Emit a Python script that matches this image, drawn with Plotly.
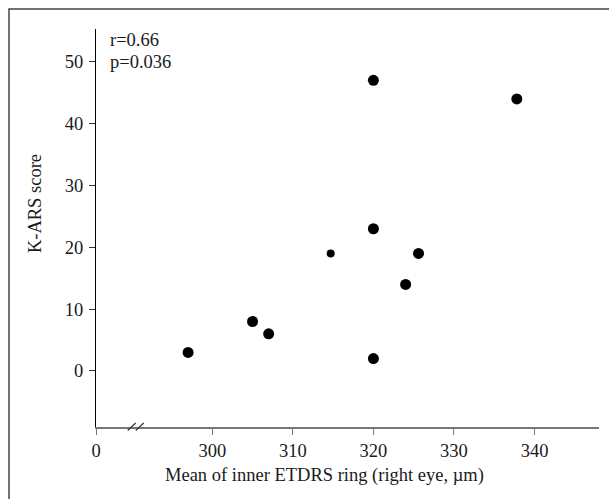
import plotly.graph_objects as go

# Mean thickness of the inner ETDRS ring (right eye, µm) and K-ARS score per subject
thickness_um = [297, 305, 307, 314.7, 320, 320, 320, 324, 325.6, 337.8]
kars_score = [3, 8, 6, 19, 47, 23, 2, 14, 19, 44]
marker_sizes = [11, 11, 11, 8, 11, 11, 11, 11, 11, 11]

x_tick_values = [300, 310, 320, 330, 340]
y_tick_values = [0, 10, 20, 30, 40, 50]
stats_lines = ["r=0.66", "p=0.036"]

# Broken x axis: the start of the axis stands for 0
X_START, X_END = 285.57, 348.0
AXIS_BREAK = 290.5
Y_RANGE = [-9.06, 55.3]

FONT = "Liberation Serif"
TEXT = "#1a1a1a"
FS = 18.5

fig = go.Figure()
fig.add_trace(go.Scatter(
    x=thickness_um, y=kars_score, mode="markers",
    marker=dict(color="black", size=marker_sizes, opacity=1, line=dict(width=0)),
    showlegend=False, cliponaxis=False,
))

fig.update_layout(
    width=609, height=499,
    margin=dict(l=96, r=10, t=29, b=72),
    paper_bgcolor="white", plot_bgcolor="white",
    font=dict(family=FONT, size=FS, color=TEXT),
    xaxis=dict(
        range=[X_START, X_END],
        tickvals=[X_START] + x_tick_values,
        ticktext=["0"] + [str(v) for v in x_tick_values],
        showgrid=False, zeroline=False,
        showline=True, linecolor="#777777", linewidth=1.5,
        ticks="outside", ticklen=6, tickcolor="#777777", tickwidth=1.2,
        tickfont=dict(family=FONT, size=FS, color=TEXT),
    ),
    yaxis=dict(
        range=Y_RANGE,
        tickvals=y_tick_values,
        showgrid=False, zeroline=False,
        showline=True, linecolor="black", linewidth=1.3,
        ticks="outside", ticklen=6, tickcolor="#333333", tickwidth=1.2,
        ticklabelstandoff=2,
        tickfont=dict(family=FONT, size=FS, color=TEXT),
    ),
)

# Outer frame around the figure (only its left and top edges fall inside the page)
fig.add_shape(
    type="rect", xref="paper", yref="paper",
    xsizemode="pixel", ysizemode="pixel", xanchor=0, yanchor=1,
    x0=-87, x1=700, y0=20, y1=-700,
    line=dict(color="#444444", width=1.5), fillcolor="rgba(0,0,0,0)",
)

# Axis break marks "//" on the x axis
for dx in (-8, 0):
    fig.add_shape(
        type="line", xref="x", yref="paper",
        xsizemode="pixel", ysizemode="pixel", xanchor=AXIS_BREAK, yanchor=0,
        x0=dx, x1=dx + 8, y0=-3.5, y1=4,
        line=dict(color="#333333", width=1.2),
    )

# Correlation statistics, one line each
for i, line in enumerate(stats_lines):
    fig.add_annotation(
        xref="paper", yref="paper", x=0, y=1, xshift=12, yshift=-11 - 22 * i,
        xanchor="left", yanchor="middle", align="left", showarrow=False,
        text=line, font=dict(family=FONT, size=FS, color=TEXT),
    )

# Axis titles
fig.add_annotation(
    xref="paper", yref="paper", x=0.455, y=0, yshift=-48,
    xanchor="center", yanchor="middle", showarrow=False,
    text="Mean of inner ETDRS ring (right eye, µm)",
    font=dict(family=FONT, size=FS, color=TEXT),
)
fig.add_annotation(
    xref="paper", yref="paper", x=0, y=0.56, xshift=-61,
    xanchor="center", yanchor="middle", showarrow=False, textangle=-90,
    text="K-ARS score",
    font=dict(family=FONT, size=FS, color=TEXT),
)

fig.write_html("out.html")
